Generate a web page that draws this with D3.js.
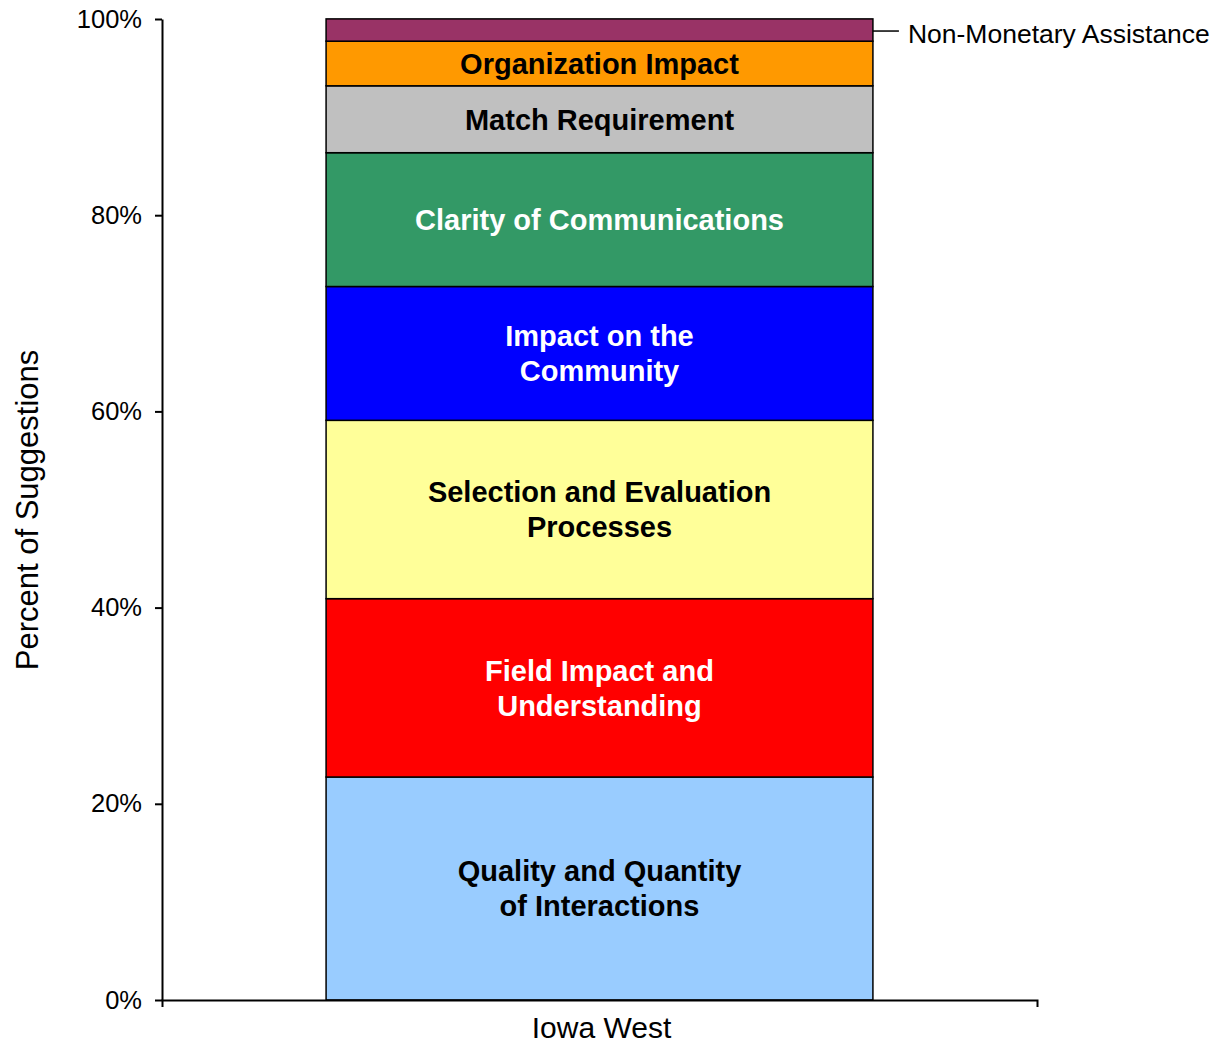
<!DOCTYPE html>
<html><head><meta charset="utf-8">
<script src="https://cdn.jsdelivr.net/npm/d3@7"></script>
<style>body{margin:0;background:#fff}svg{display:block;font-family:"Liberation Sans",Arial,sans-serif}</style>
</head><body><svg id="c" width="1212" height="1043"></svg>
<script>
const categories = ["Iowa West"];
const segmentNames = ["Quality and Quantity of Interactions","Field Impact and Understanding","Selection and Evaluation Processes","Impact on the Community","Clarity of Communications","Match Requirement","Organization Impact","Non-Monetary Assistance"];
const segmentLabelLines = [["Quality and Quantity","of Interactions"],["Field Impact and","Understanding"],["Selection and Evaluation","Processes"],["Impact on the","Community"],["Clarity of Communications"],["Match Requirement"],["Organization Impact"],[]];
const segmentValues = [22.73, 18.18, 18.18, 13.64, 13.64, 6.82, 4.55, 2.27];
const segmentColors = ["#99CCFF","#FF0000","#FFFF99","#0000FF","#339966","#C0C0C0","#FF9900","#993366"];
const labelColors = ["#000","#fff","#000","#fff","#fff","#000","#000","#000"];
const yTicks = [0,20,40,60,80,100];

const svg = d3.select("#c");
const mLeft=162, mRight=1037, mTop=19, mBottom=1000;
const x = d3.scaleBand().domain(categories).range([mLeft,mRight]).paddingInner(0.2308).paddingOuter(0.2308);
const y = d3.scaleLinear().domain([0,100]).range([mBottom,mTop]);

let cum=0;
const stacks = segmentValues.map((v,i)=>{const s={i,y0:cum,y1:cum+v};cum+=v;return s;});

const g = svg.append("g");
g.selectAll("rect").data(stacks).enter().append("rect")
 .attr("x",x(categories[0])).attr("width",x.bandwidth())
 .attr("y",d=>y(d.y1)).attr("height",d=>y(d.y0)-y(d.y1))
 .attr("fill",d=>segmentColors[d.i]).attr("stroke","#000").attr("stroke-width",1.5);

stacks.forEach(d=>{
  const lines=segmentLabelLines[d.i];
  if(!lines.length) return;
  const cy=(y(d.y0)+y(d.y1))/2;
  const lh=35;
  lines.forEach((t,k)=>{
    g.append("text").attr("x",x(categories[0])+x.bandwidth()/2)
     .attr("y",cy+(k-(lines.length-1)/2)*lh).attr("dy","0.36em")
     .attr("text-anchor","middle").attr("font-weight","bold").attr("font-size",29)
     .attr("fill",labelColors[d.i]).text(t);
  });
});

// Non-monetary leader label
const last=stacks[stacks.length-1];
const ly=(y(last.y0)+y(last.y1))/2+1;
const bx=x(categories[0])+x.bandwidth();
g.append("line").attr("x1",bx).attr("x2",bx+26).attr("y1",ly).attr("y2",ly).attr("stroke","#000").attr("stroke-width",1.5);
g.append("text").attr("x",bx+35).attr("y",ly+3).attr("dy","0.35em").attr("font-size",26.5).attr("fill","#000").text(segmentNames[segmentNames.length-1]);

// Y axis
const ya = svg.append("g").attr("transform",`translate(${mLeft},0)`)
 .call(d3.axisLeft(y).tickValues(yTicks).tickFormat(d=>d+"%").tickSize(7).tickSizeOuter(0));
ya.select(".domain").attr("stroke","#000").attr("stroke-width",2);
ya.selectAll(".tick line").attr("stroke","#000").attr("stroke-width",2);
ya.selectAll(".tick text").attr("font-size",25.5).attr("font-family","Liberation Sans, Arial, sans-serif").attr("fill","#000").attr("x",-20);

// X axis
const xa = svg.append("g").attr("transform",`translate(0,${mBottom})`)
 .call(d3.axisBottom(x).tickSize(0).tickSizeOuter(7));
xa.select(".domain").attr("stroke","#000").attr("stroke-width",2);
xa.selectAll(".tick text").attr("font-size",30).attr("font-family","Liberation Sans, Arial, sans-serif").attr("fill","#000").attr("dy","0").attr("y",38).attr("dx",2);

svg.append("text").attr("transform",`translate(38,${510}) rotate(-90)`)
 .attr("text-anchor","middle").attr("font-size",31).attr("fill","#000").text("Percent of Suggestions");
</script></body></html>
